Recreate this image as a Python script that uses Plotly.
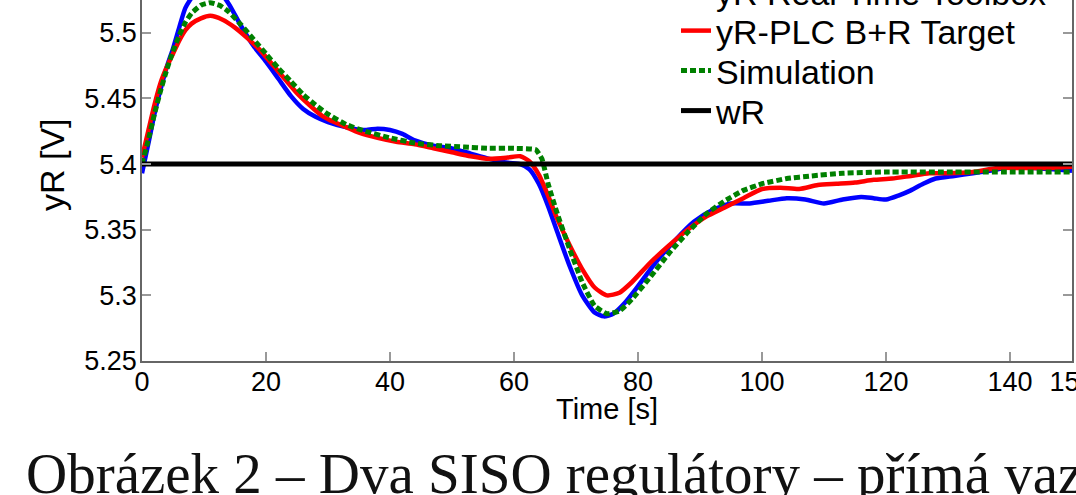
import plotly.graph_objects as go

# ---- data ----
t_rt = [0, 1, 2, 3, 4, 5, 6, 7, 8.5, 10, 12, 14, 16, 18, 20, 22, 24, 26, 28, 30,
        33, 36, 38, 40, 42, 44, 47, 50, 53, 56, 59, 61, 62.5, 64, 65.5, 67, 69,
        71, 73, 74.5, 76, 78, 80, 83, 86, 89, 92, 95, 98, 101, 104, 107, 110,
        113, 116, 118, 120, 122, 124, 126, 128, 131, 134, 137, 140, 144, 147, 150]
y_rt = [5.393, 5.415, 5.438, 5.457, 5.474, 5.488, 5.504, 5.519, 5.530, 5.536, 5.534,
        5.522, 5.505, 5.49, 5.478, 5.465, 5.452, 5.442, 5.436, 5.432, 5.428, 5.426,
        5.427, 5.426, 5.423, 5.418, 5.414, 5.412, 5.408, 5.404, 5.401, 5.400, 5.396,
        5.385, 5.368, 5.348, 5.322, 5.300, 5.287, 5.284, 5.286, 5.295, 5.307, 5.326,
        5.342, 5.356, 5.365, 5.370, 5.370, 5.372, 5.374, 5.373, 5.370, 5.373, 5.375,
        5.374, 5.373, 5.376, 5.380, 5.385, 5.389, 5.391, 5.393, 5.395, 5.398, 5.397,
        5.396, 5.395]

t_plc = [0, 1, 2, 3, 4, 5, 6, 7, 8, 9.5, 11, 13, 15, 17, 19, 21, 23, 25, 27, 29,
         31, 33, 35, 38, 41, 44, 47, 50, 53, 56, 59, 61, 62.5, 64, 65.5, 67, 69,
         71, 73, 75, 77, 79, 82, 85, 88, 91, 94, 97, 100, 103, 106, 109, 112, 115,
         118, 121, 124, 127, 130, 134, 138, 142, 146, 150]
y_plc = [5.405, 5.425, 5.445, 5.462, 5.474, 5.484, 5.494, 5.502, 5.507, 5.511,
         5.513, 5.510, 5.504, 5.496, 5.487, 5.476, 5.465, 5.454, 5.445, 5.437,
         5.432, 5.428, 5.424, 5.420, 5.417, 5.415, 5.412, 5.409, 5.406, 5.404,
         5.405, 5.406, 5.402, 5.392, 5.376, 5.358, 5.338, 5.320, 5.306, 5.300,
         5.302, 5.310, 5.325, 5.338, 5.350, 5.360, 5.367, 5.374, 5.381, 5.382,
         5.381, 5.384, 5.385, 5.386, 5.388, 5.389, 5.391, 5.393, 5.393, 5.394,
         5.397, 5.397, 5.397, 5.398]

t_sim = [0, 1, 2, 3, 4, 5, 6, 7, 8, 9.5, 11, 12.5, 14, 16, 18, 20, 22, 24, 26, 28,
         30, 33, 36, 40, 44, 48, 52, 56, 60, 63.5, 64.5, 65.5, 67, 69, 71, 73, 75,
         77, 79, 82, 85, 88, 91, 94, 97, 100, 104, 108, 113, 120, 130, 140, 150]
y_sim = [5.400, 5.418, 5.438, 5.456, 5.472, 5.486, 5.498, 5.508, 5.515, 5.521,
         5.523, 5.521, 5.516, 5.506, 5.495, 5.484, 5.473, 5.463, 5.453, 5.445,
         5.438, 5.430, 5.425, 5.420, 5.416, 5.414, 5.413, 5.412, 5.412, 5.411,
         5.404, 5.385, 5.362, 5.335, 5.310, 5.292, 5.286, 5.288, 5.297, 5.314,
         5.332, 5.348, 5.362, 5.372, 5.380, 5.385, 5.389, 5.391, 5.393, 5.394,
         5.394, 5.394, 5.394]

t_w = [0, 150]
y_w = [5.4, 5.4]

x_ticks = [0, 20, 40, 60, 80, 100, 120, 140, 150]
y_ticks = [5.25, 5.3, 5.35, 5.4, 5.45, 5.5]

SANS = "Liberation Sans, Arial, sans-serif"
SERIF = "Liberation Serif, Times New Roman, serif"

# plot-area geometry (pixels)
L, R, T, B = 142, 4, 0, 134
W, H = 1076, 495
PW, PH = W - L - R, H - T - B


def px(xp):
    return (xp - L) / PW


def py(yp):
    return (H - B - yp) / PH


fig = go.Figure()
fig.add_trace(go.Scatter(x=t_rt, y=y_rt, mode="lines", name="yR Real Time Toolbox", legend="legend",
                         line=dict(color="#0000ff", width=4.5, shape="spline", smoothing=0.6)))
fig.add_trace(go.Scatter(x=t_plc, y=y_plc, mode="lines", name="yR-PLC B+R Target", legend="legend2",
                         line=dict(color="#ff0000", width=4.5, shape="spline", smoothing=0.6)))
fig.add_trace(go.Scatter(x=t_sim, y=y_sim, mode="lines", name="Simulation", legend="legend3",
                         line=dict(color="#008000", width=5, dash="6px,3px", shape="spline", smoothing=0.4)))
fig.add_trace(go.Scatter(x=t_w, y=y_w, mode="lines", name="wR", legend="legend4",
                         line=dict(color="#000000", width=5)))

leg_common = dict(x=px(676), xanchor="left", yanchor="middle",
                  font=dict(family=SANS, size=34, color="black"),
                  bgcolor="rgba(255,255,255,0)", borderwidth=0)

fig.update_layout(
    width=W, height=H,
    margin=dict(l=L, r=R, t=T, b=B, pad=0, autoexpand=False),
    paper_bgcolor="white", plot_bgcolor="white",
    font=dict(family=SANS, color="black"),
    showlegend=True,
    legend=dict(y=py(-8), **leg_common),
    legend2=dict(y=py(31), **leg_common),
    legend3=dict(y=py(71), **leg_common),
    legend4=dict(y=py(111), **leg_common),
    xaxis=dict(range=[0, 150], tickvals=x_ticks, ticktext=[str(v) for v in x_ticks],
               ticks="inside", ticklen=9, tickcolor="#999999", tickwidth=1.5,
               showline=True, linecolor="#666666", linewidth=1.5, showgrid=False,
               zeroline=False, ticklabeloverflow="allow", ticklabelstandoff=-4,
               tickfont=dict(family=SANS, size=27, color="black")),
    yaxis=dict(range=[5.25, 5.525], tickvals=y_ticks, ticktext=[f"{v:g}" for v in y_ticks],
               ticks="inside", ticklen=9, tickcolor="#999999", tickwidth=1.5,
               showline=True, linecolor="#666666", linewidth=1.5, mirror="ticks",
               showgrid=False, zeroline=False, ticklabelstandoff=-2,
               tickfont=dict(family=SANS, size=27, color="black")),
    annotations=[
        dict(text="yR [V]", xref="paper", yref="paper", x=px(52), y=py(165),
             xanchor="center", yanchor="middle", textangle=-90, showarrow=False,
             font=dict(family=SANS, size=34, color="black")),
        dict(text="Time [s]", xref="paper", yref="paper", x=px(607), y=py(409),
             xanchor="center", yanchor="middle", showarrow=False,
             font=dict(family=SANS, size=29, color="black")),
        dict(text="Obrázek 2 – Dva SISO regulátory – přímá vazba", xref="paper", yref="paper",
             x=px(24), y=py(474), xanchor="left", yanchor="middle",
             showarrow=False, font=dict(family=SERIF, size=57, color="#111111")),
    ],
)

fig.write_html("out.html", config={"displayModeBar": False},
               post_script="document.body.style.margin='0';document.body.style.overflow='hidden';")
